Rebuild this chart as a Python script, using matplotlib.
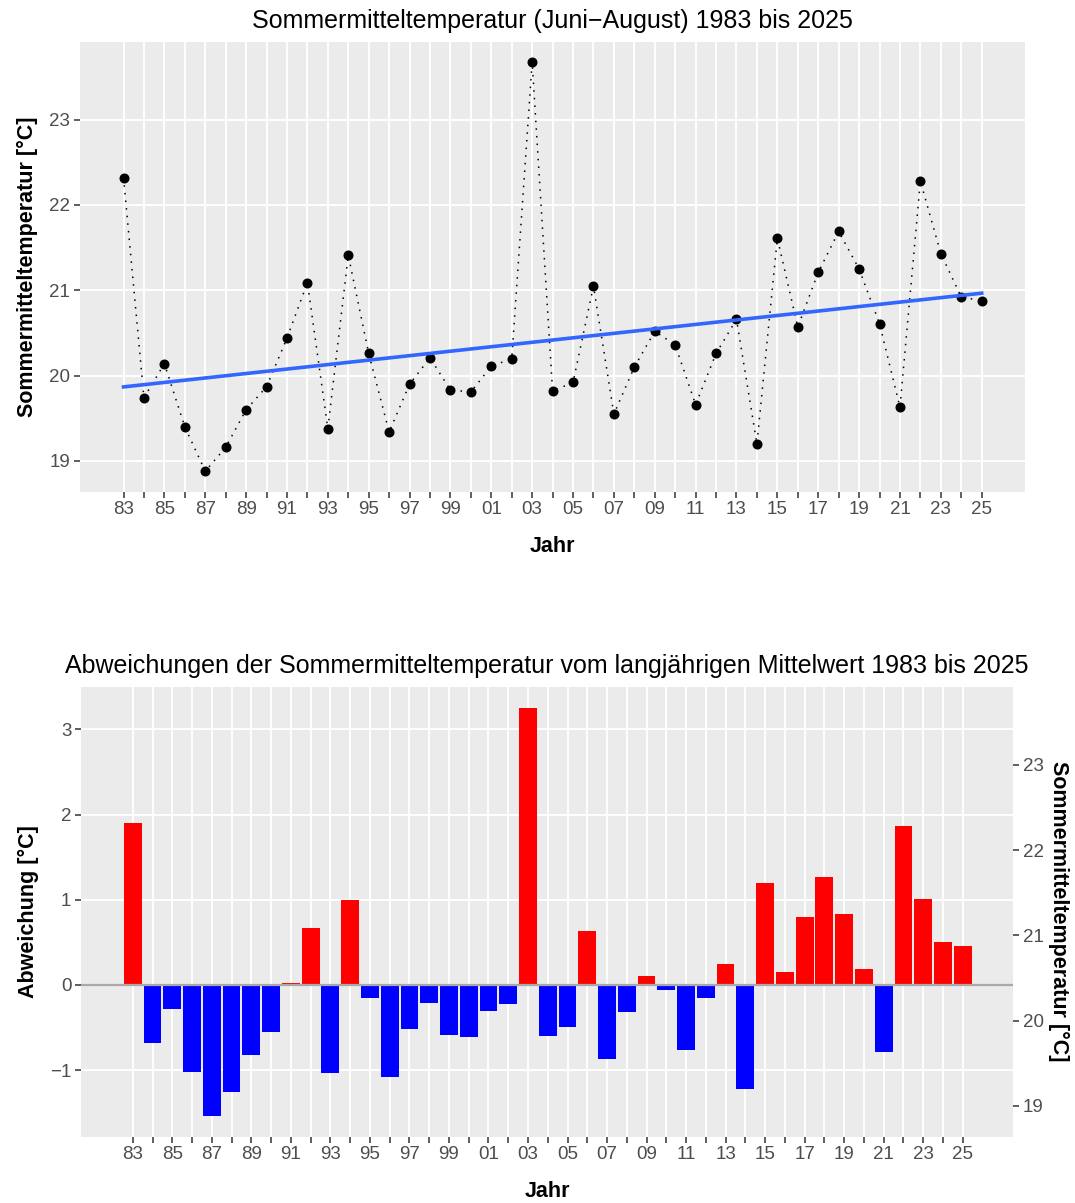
import numpy as np
import matplotlib.pyplot as plt
from matplotlib.ticker import FixedLocator, FuncFormatter

plt.rcParams["font.family"] = ["Liberation Sans", "DejaVu Sans"]

# Sommermitteltemperatur (Juni-August) je Jahr
jahre = np.arange(1983, 2026)
temperatur = np.array([
    22.32, 19.74, 20.14, 19.40, 18.88, 19.16, 19.60, 19.87, 20.44, 21.09,
    19.38, 21.41, 20.26, 19.34, 19.90, 20.21, 19.83, 19.81, 20.11, 20.20,
    23.67, 19.82, 19.92, 21.05, 19.55, 20.10, 20.52, 20.36, 19.66, 20.26,
    20.66, 19.20, 21.61, 20.57, 21.21, 21.69, 21.25, 20.61, 19.63, 22.28,
    21.43, 20.92, 20.88,
])
x_labels = [f"{j % 100:02d}" if j % 2 == 1 else "" for j in jahre]

mittel = temperatur.mean()
abweichung = temperatur - mittel

W, H = 1075, 1203
fig = plt.figure(figsize=(W / 100, H / 100), dpi=100)

BG = "#EBEBEB"
TXT = "#4D4D4D"


def px_axes(left, top, right, bottom):
    return fig.add_axes([left / W, 1 - bottom / H, (right - left) / W, (bottom - top) / H])


def style(ax):
    ax.set_facecolor(BG)
    for s in ax.spines.values():
        s.set_visible(False)
    ax.grid(True, color="white", lw=1.4)
    ax.set_axisbelow(True)
    ax.tick_params(axis="both", colors="#333333", labelcolor=TXT, labelsize=13.5,
                   length=4, width=1.1, pad=3)
    ax.set_xticks(jahre)
    ax.set_xticklabels(x_labels)


# --- oben: Jahreswerte mit Trend ---
ax1 = px_axes(80, 42, 1025, 491.7)
style(ax1)
ax1.plot(jahre, temperatur, color="black", lw=1.1, linestyle=(0, (1, 4)), zorder=2)
ax1.plot(jahre, temperatur, "o", color="black", ms=6.2, zorder=3)
k, d = np.polyfit(jahre, temperatur, 1)
ax1.plot(jahre, k * jahre + d, color="#3366FF", lw=2.6, zorder=4)
ax1.set_xlim(1980.87, 2027.12)
ax1.set_ylim(18.64, 23.91)
ax1.set_yticks([19, 20, 21, 22, 23])
ax1.set_title("Sommermitteltemperatur (Juni\u2212August) 1983 bis 2025",
              fontsize=18, pad=10)
ax1.set_xlabel("Jahr", fontsize=15.5, fontweight="bold", labelpad=13)
ax1.set_ylabel("Sommermitteltemperatur [°C]", fontsize=15.5, fontweight="bold", labelpad=8)

# --- unten: Abweichungen vom Mittelwert ---
ax2 = px_axes(81, 686.7, 1013.3, 1136.7)
style(ax2)
farben = np.where(abweichung >= 0, "#FF0000", "#0000FF")
ax2.bar(jahre, abweichung, width=0.9, color=farben, zorder=2)
ax2.axhline(0, color="#A9A9A9", lw=1.6, zorder=3)
ax2.set_xlim(1980.38, 2027.56)
ax2.set_ylim(-1.78, 3.50)
ax2.yaxis.set_major_locator(FixedLocator([-1, 0, 1, 2, 3]))
ax2.yaxis.set_major_formatter(FuncFormatter(lambda v, p: f"{v:g}".replace("-", "\u2212")))
ax2.set_title("Abweichungen der Sommermitteltemperatur vom langjährigen Mittelwert 1983 bis 2025",
              fontsize=18, pad=10)
ax2.set_xlabel("Jahr", fontsize=15.5, fontweight="bold", labelpad=13)
ax2.set_ylabel("Abweichung [°C]", fontsize=15.5, fontweight="bold", labelpad=8)

sec = ax2.secondary_yaxis("right", functions=(lambda v: v + mittel, lambda t: t - mittel))
sec.set_yticks([19, 20, 21, 22, 23])
sec.spines["right"].set_visible(False)
sec.tick_params(colors="#333333", labelcolor=TXT, labelsize=13.5, length=4, width=1.1, pad=3)
sec.set_ylabel("Sommermitteltemperatur [°C]", fontsize=15.5, fontweight="bold",
               rotation=-90, labelpad=18)

fig.savefig("out.png", dpi=100)
